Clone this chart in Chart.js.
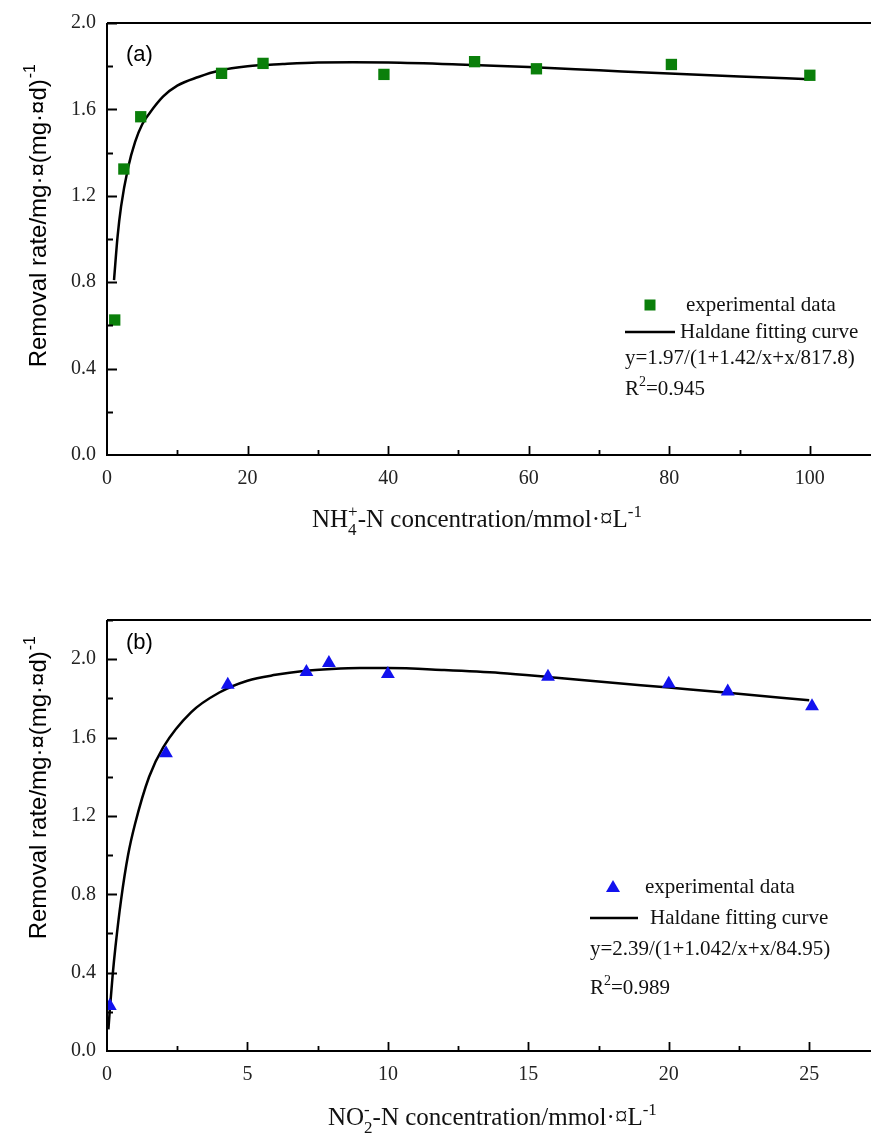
<!DOCTYPE html>
<html>
<head>
<meta charset="utf-8">
<script src="https://cdn.jsdelivr.net/npm/chart.js@4.4.1/dist/chart.umd.min.js"></script>
<style>
html,body{margin:0;padding:0;background:#fff;}
body{width:871px;height:1138px;position:relative;overflow:hidden;}
.panel{position:absolute;left:0;}
</style>
</head>
<body>
<div class="panel" style="top:0"><canvas id="ca" width="871" height="560"></canvas></div>
<div class="panel" style="top:560px"><canvas id="cb" width="871" height="578"></canvas></div>
<script>
// ---- Panel (a) data: NH4+-N ----
const xA_data = [1.1, 2.4, 4.8, 16.3, 22.2, 39.4, 52.3, 61.1, 80.3, 100];
const yA_data = [0.625, 1.324, 1.566, 1.767, 1.813, 1.762, 1.821, 1.788, 1.808, 1.758];
const xA_fit = [1, 1.5, 2, 3, 4, 5, 6, 8, 10, 13, 16, 20, 25, 30, 35, 40, 50, 60, 70, 80, 90, 100];
const yA_fit = [0.81, 1.01, 1.15, 1.33, 1.45, 1.53, 1.58, 1.66, 1.71, 1.75, 1.78, 1.80, 1.81, 1.817, 1.818, 1.817, 1.808, 1.796, 1.781, 1.766, 1.752, 1.74];
const xA_ticks = [0, 20, 40, 60, 80, 100];
const yA_ticks = [0.0, 0.4, 0.8, 1.2, 1.6, 2.0];

// ---- Panel (b) data: NO2--N ----
const xB_data = [0.1, 2.1, 4.3, 7.1, 7.9, 10.0, 15.7, 20.0, 22.1, 25.1];
const yB_data = [0.23, 1.52, 1.87, 1.935, 1.98, 1.925, 1.91, 1.875, 1.835, 1.76];
const xB_fit = [0.05, 0.1, 0.2, 0.3, 0.5, 0.75, 1, 1.5, 2, 3, 4, 5, 6, 7, 8, 9, 10, 12, 14, 16, 18, 20, 22, 25];
const yB_fit = [0.11, 0.21, 0.385, 0.53, 0.77, 1.0, 1.16, 1.40, 1.55, 1.73, 1.83, 1.89, 1.92, 1.94, 1.95, 1.955, 1.955, 1.945, 1.93, 1.905, 1.88, 1.855, 1.83, 1.79];
const xB_ticks = [0, 5, 10, 15, 20, 25];
const yB_ticks = [0.0, 0.4, 0.8, 1.2, 1.6, 2.0];

const SERIF = '"Liberation Serif","Times New Roman",serif';
const SANS = '"Liberation Sans",Arial,sans-serif';

function richText(ctx, x, y, parts, size) {
  let cx = x;
  parts.forEach(p => {
    if (p.mode === 'subsup') {
      ctx.font = Math.round(size*0.68) + 'px ' + SERIF;
      const w1 = ctx.measureText(p.sub).width, w2 = ctx.measureText(p.sup).width;
      ctx.fillText(p.sub, cx, y + size*0.32);
      ctx.fillText(p.sup, cx, y - size*0.42);
      cx += Math.max(w1, w2);
    } else if (p.mode === 'sup') {
      ctx.font = Math.round(size*0.68) + 'px ' + SERIF;
      ctx.fillText(p.t, cx, y - size*0.42);
      cx += ctx.measureText(p.t).width;
    } else {
      ctx.font = size + 'px ' + SERIF;
      ctx.fillText(p.t, cx, y);
      cx += ctx.measureText(p.t).width;
    }
  });
}

function makePanel(id, cfg) {
  const framePlugin = {
    id: 'frame',
    afterDraw(chart) {
      const ctx = chart.ctx, a = chart.chartArea;
      const xs = chart.scales.x, ys = chart.scales.y;
      ctx.save();
      ctx.strokeStyle = '#000';
      ctx.lineWidth = 2;
      ctx.beginPath();
      ctx.moveTo(a.left, a.top); ctx.lineTo(a.right, a.top);
      ctx.moveTo(a.left, a.top); ctx.lineTo(a.left, a.bottom);
      ctx.lineTo(a.right, a.bottom);
      ctx.stroke();
      // inward ticks
      ctx.lineWidth = 1.8;
      ctx.beginPath();
      for (let v = 0; v <= xs.max + 1e-9; v += cfg.xStep/2) {
        if (v === 0) continue;
        const px = Math.round(xs.getPixelForValue(v)) + 0.5;
        const major = Math.abs(v/cfg.xStep - Math.round(v/cfg.xStep)) < 1e-6;
        ctx.moveTo(px, a.bottom); ctx.lineTo(px, a.bottom - (major ? 9 : 5));
      }
      for (let v = 0; v <= ys.max + 1e-9; v += cfg.yStep/2) {
        if (v === 0) continue;
        const py = Math.round(ys.getPixelForValue(v)) + 0.5;
        const major = Math.abs(v/cfg.yStep - Math.round(v/cfg.yStep)) < 1e-6;
        ctx.moveTo(a.left, py); ctx.lineTo(a.left + (major ? 10 : 6), py);
      }
      ctx.stroke();

      // panel label
      ctx.fillStyle = '#000';
      ctx.font = '22px ' + SANS;
      ctx.textBaseline = 'middle';
      ctx.textAlign = 'left';
      ctx.fillText(cfg.label, cfg.labelPos[0], cfg.labelPos[1]);

      // legend
      const L = cfg.legend;
      ctx.fillStyle = cfg.color;
      if (cfg.marker === 'rect') {
        ctx.fillRect(L.mx - 5.5, L.my - 5.5, 11, 11);
      } else {
        ctx.beginPath();
        ctx.moveTo(L.mx, L.my - 7);
        ctx.lineTo(L.mx + 7, L.my + 5);
        ctx.lineTo(L.mx - 7, L.my + 5);
        ctx.closePath(); ctx.fill();
      }
      ctx.fillStyle = '#111';
      ctx.font = '21px ' + SERIF;
      ctx.fillText('experimental data', L.tx1, L.my);
      ctx.strokeStyle = '#000'; ctx.lineWidth = 2.5;
      ctx.beginPath(); ctx.moveTo(L.lx0, L.ly); ctx.lineTo(L.lx1, L.ly); ctx.stroke();
      ctx.fillText('Haldane fitting curve', L.tx2, L.ly);
      ctx.fillText(cfg.equation, L.ex, L.ey);
      ctx.textBaseline = 'alphabetic';
      richText(ctx, L.ex, L.ry + 7, [{t:'R'}, {t:'2', mode:'sup'}, {t:'=' + cfg.r2}], 21);

      // x-axis title
      ctx.fillStyle = '#111';
      richText(ctx, cfg.xTitlePos[0], cfg.xTitlePos[1], cfg.xTitleParts, 25);

      // y-axis title (rotated)
      ctx.save();
      ctx.fillStyle = '#000';
      ctx.font = '24px ' + SANS;
      const main = 'Removal rate/mg\u00B7\u00A4(mg\u00B7\u00A4d)';
      const wMain = ctx.measureText(main).width;
      ctx.font = '16px ' + SANS;
      const wSup = ctx.measureText('-1').width;
      const total = wMain + wSup;
      ctx.translate(cfg.yTitleX, cfg.yTitleTop + total);
      ctx.rotate(-Math.PI/2);
      ctx.textBaseline = 'alphabetic';
      ctx.font = '24px ' + SANS;
      ctx.fillText(main, 0, 0);
      ctx.font = '16px ' + SANS;
      ctx.fillText('-1', wMain + 1, -11);
      ctx.restore();
      ctx.restore();
    }
  };

  return new Chart(document.getElementById(id), {
    type: 'scatter',
    data: {
      datasets: [
        {
          type: 'line',
          data: cfg.fitX.map((x, i) => ({x, y: cfg.fitY[i]})),
          borderColor: '#000',
          borderWidth: 2.5,
          pointRadius: 0,
          fill: false,
          cubicInterpolationMode: 'monotone',
          order: 2
        },
        {
          data: cfg.dataX.map((x, i) => ({x, y: cfg.dataY[i]})),
          backgroundColor: cfg.color,
          borderColor: cfg.color,
          borderWidth: 0,
          pointStyle: cfg.marker,
          pointRadius: 8,
          order: 1
        }
      ]
    },
    options: {
      responsive: false,
      animation: false,
      events: [],
      layout: { autoPadding: false, padding: { left: 0, right: 0, top: cfg.padTop, bottom: 0 } },
      plugins: { legend: { display: false }, tooltip: { enabled: false } },
      scales: {
        x: {
          type: 'linear', min: 0, max: cfg.xMax,
          grid: { display: false, drawTicks: false },
          border: { display: false },
          afterBuildTicks: s => { s.ticks = cfg.xTicks.map(v => ({value: v})); },
          afterFit: s => { s.height = cfg.xAxisH; },
          ticks: {
            color: '#222', padding: 12,
            font: { family: SERIF, size: 20 },
            callback: v => String(v)
          }
        },
        y: {
          type: 'linear', min: 0, max: cfg.yMax,
          grid: { display: false, drawTicks: false },
          border: { display: false },
          afterBuildTicks: s => { s.ticks = cfg.yTicks.map(v => ({value: v})); },
          afterFit: s => { s.width = 107; },
          ticks: {
            color: '#222', padding: 11,
            font: { family: SERIF, size: 20 },
            callback: v => Number(v).toFixed(1)
          }
        }
      }
    },
    plugins: [framePlugin]
  });
}

makePanel('ca', {
  dataX: xA_data, dataY: yA_data, fitX: xA_fit, fitY: yA_fit,
  xTicks: xA_ticks, yTicks: yA_ticks, xStep: 20, yStep: 0.4,
  xMax: 108.7, yMax: 2.0, padTop: 23, xAxisH: 105,
  color: '#0a7f0a', marker: 'rect',
  label: '(a)', labelPos: [126, 55],
  legend: { mx: 650, my: 305, tx1: 686, lx0: 625, lx1: 675, ly: 332, tx2: 680, ex: 625, ey: 358, ry: 388 },
  equation: 'y=1.97/(1+1.42/x+x/817.8)', r2: '0.945',
  xTitlePos: [312, 527],
  xTitleParts: [{t:'NH'}, {mode:'subsup', sub:'4', sup:'+'}, {t:'-N concentration/mmol\u00B7\u00A4L'}, {t:'-1', mode:'sup'}],
  yTitleX: 46, yTitleTop: 65
});

makePanel('cb', {
  dataX: xB_data, dataY: yB_data, fitX: xB_fit, fitY: yB_fit,
  xTicks: xB_ticks, yTicks: yB_ticks, xStep: 5, yStep: 0.4,
  xMax: 27.2, yMax: 2.2, padTop: 60, xAxisH: 87,
  color: '#1212ee', marker: 'triangle',
  label: '(b)', labelPos: [126, 83],
  legend: { mx: 613, my: 327, tx1: 645, lx0: 590, lx1: 638, ly: 358, tx2: 650, ex: 590, ey: 389, ry: 427 },
  equation: 'y=2.39/(1+1.042/x+x/84.95)', r2: '0.989',
  xTitlePos: [328, 565],
  xTitleParts: [{t:'NO'}, {mode:'subsup', sub:'2', sup:'-'}, {t:'-N concentration/mmol\u00B7\u00A4L'}, {t:'-1', mode:'sup'}],
  yTitleX: 46, yTitleTop: 77
});
</script>
</body>
</html>
